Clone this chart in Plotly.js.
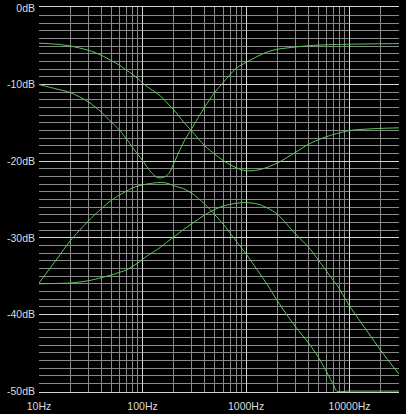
<!DOCTYPE html>
<html>
<head>
<meta charset="utf-8">
<script src="https://cdn.plot.ly/plotly-3.0.1.min.js"></script>
<style>
  html, body { margin: 0; padding: 0; background: #000; }
  #chart { width: 406px; height: 414px; }
</style>
</head>
<body>
<div id="chart"></div>
<script>
// Frequencies (Hz)
const freq = [10, 15, 20, 30, 40, 50, 60, 70, 80, 90, 100, 120, 140, 160, 180, 200, 250, 300, 400, 500, 600, 800, 1000, 1300, 1600, 2000, 3000, 4000, 5000, 7000, 7500, 10000, 15000, 20000, 30000];

// Response curves (dB)
const curveA = [-4.6, -4.75, -4.97, -5.53, -6.18, -6.88, -7.49, -8.12, -8.66, -9.22, -9.8, -10.6, -11.2, -11.9, -12.65, -13.3, -14.9, -16.1, -18.0, -19.1, -19.9, -20.85, -21.25, -21.15, -20.8, -20.25, -18.85, -17.8, -17.2, -16.5, -16.4, -16.0, -15.8, -15.72, -15.65];
const curveB = [-10.0, -10.6, -11.04, -12.26, -13.6, -14.9, -15.95, -17.1, -18.2, -19.1, -19.9, -21.4, -22.15, -22.1, -21.6, -20.3, -17.5, -15.7, -12.9, -11.0, -9.75, -7.9, -7.1, -6.3, -5.75, -5.4, -5.1, -4.93, -4.85, -4.78, -4.77, -4.74, -4.7, -4.68, -4.66];
const curveC = [-35.9, -32.7, -30.4, -27.8, -26.2, -25.1, -24.4, -23.9, -23.5, -23.25, -23.1, -22.9, -22.8, -22.8, -22.95, -23.2, -23.6, -24.2, -25.6, -27.0, -28.2, -30.4, -32.1, -34.3, -36.1, -38.2, -41.6, -43.7, -45.6, -49.2, -50, -50, -50, -50, -50];
const curveD = [-36.0, -35.95, -35.9, -35.6, -35.2, -34.85, -34.5, -34.2, -33.7, -33.3, -32.8, -32.05, -31.5, -30.9, -30.35, -29.9, -28.9, -28.15, -27.0, -26.3, -25.85, -25.5, -25.4, -25.6, -26.1, -26.9, -29.5, -31.2, -32.9, -35.6, -36.1, -38.9, -42.3, -44.7, -47.8];

// Tick labels
const xTickVals = [10, 100, 1000, 10000];
const xTickText = ["10Hz", "100Hz", "1000Hz", "10000Hz"];
const yTickVals = [0, -10, -20, -30, -40, -50];
const yTickText = ["0dB", "-10dB", "-20dB", "-30dB", "-40dB", "-50dB"];

const green = "#5ccc5c";
const curves = [curveA, curveB, curveC, curveD];
const traces = curves.map(c => ({
  x: freq, y: c, type: "scatter", mode: "lines",
  line: { color: green, width: 1, shape: "spline", smoothing: 0.8 },
  hoverinfo: "skip", showlegend: false
}));

const tickFont = { family: "Liberation Sans, Arial, sans-serif", size: 10.5, color: "#dcdcdc" };
const majorGrid = "#d4d4d4";
const minorGrid = "#8a8a8a";

const layout = {
  width: 406, height: 414,
  margin: { l: 39, r: 7, t: 7, b: 22, pad: 0 },
  paper_bgcolor: "#000", plot_bgcolor: "#000",
  showlegend: false,
  xaxis: {
    type: "log", range: [1, Math.log10(30000)],
    tickvals: xTickVals, ticktext: xTickText,
    showgrid: true, gridcolor: majorGrid, gridwidth: 1,
    minor: { dtick: "D1", showgrid: true, gridcolor: minorGrid, gridwidth: 1, ticks: "" },
    zeroline: false, showline: true, mirror: true, linecolor: majorGrid, linewidth: 1,
    ticks: "", tickfont: tickFont, ticklabelstandoff: 4, fixedrange: true
  },
  yaxis: {
    range: [-50.12, 0.12],
    tickvals: yTickVals, ticktext: yTickText,
    showgrid: true, gridcolor: majorGrid, gridwidth: 1,
    minor: { dtick: 1, showgrid: true, gridcolor: minorGrid, gridwidth: 1, ticks: "" },
    zeroline: false, showline: false,
    ticks: "", tickfont: tickFont, ticklabelstandoff: 3, fixedrange: true
  }
};

Plotly.newPlot("chart", traces, layout, { displayModeBar: false, staticPlot: true });
</script>
</body>
</html>
